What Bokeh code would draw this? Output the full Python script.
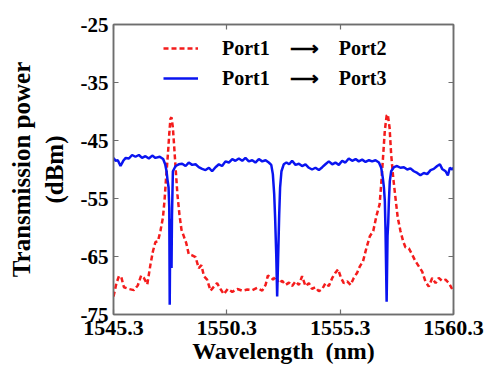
from bokeh.plotting import figure
from bokeh.models import (FixedTicker, LinearAxis, Range1d, Legend, LegendItem)
from bokeh.embed import file_html
from bokeh.resources import INLINE

# ---- data ----
red_wl = [1545.30, 1545.43, 1545.54, 1545.64, 1545.76, 1545.98, 1546.20, 1546.37, 1546.52, 1546.64,
          1546.79, 1546.93, 1547.04, 1547.15, 1547.26, 1547.37, 1547.48, 1547.55, 1547.62, 1547.70,
          1547.76, 1547.81, 1547.86, 1547.92, 1547.98, 1548.05, 1548.12, 1548.21, 1548.30, 1548.40,
          1548.51, 1548.62, 1548.77, 1548.92, 1549.06, 1549.18, 1549.29, 1549.43, 1549.58, 1549.73,
          1549.87, 1550.02, 1550.17, 1550.34, 1550.54, 1550.76, 1550.98, 1551.20, 1551.42, 1551.64,
          1551.86, 1552.01, 1552.11, 1552.23, 1552.34, 1552.46, 1552.59, 1552.74, 1552.89, 1553.04,
          1553.18, 1553.33, 1553.48, 1553.62, 1553.77, 1553.92, 1554.06, 1554.21, 1554.36, 1554.51,
          1554.65, 1554.80, 1554.95, 1555.09, 1555.21, 1555.34, 1555.46, 1555.61, 1555.76, 1555.90,
          1556.05, 1556.17, 1556.31, 1556.46, 1556.61, 1556.76, 1556.90, 1557.04, 1557.12, 1557.20,
          1557.27, 1557.35, 1557.40, 1557.48, 1557.55, 1557.64, 1557.74, 1557.84, 1557.96, 1558.08,
          1558.18, 1558.33, 1558.48, 1558.62, 1558.77, 1558.92, 1559.06, 1559.21, 1559.36, 1559.51,
          1559.65, 1559.80, 1559.95, 1560.10, 1560.24]
red_pw = [-71.9, -69.6, -68.4, -68.5, -70.3, -70.6, -70.8, -70.0, -68.3, -68.7,
          -69.8, -66.4, -64.1, -62.5, -62.4, -60.6, -58.3, -55.4, -51.4, -47.4,
          -43.9, -41.3, -41.0, -42.8, -46.2, -50.3, -54.3, -57.8, -60.4, -61.5,
          -62.7, -64.6, -64.8, -65.1, -67.0, -66.5, -68.4, -69.0, -70.9, -70.2,
          -69.6, -70.6, -71.5, -70.6, -71.1, -70.6, -70.9, -70.7, -70.8, -70.4,
          -70.9, -69.9, -68.3, -68.5, -69.0, -68.4, -69.6, -69.2, -69.9, -69.5,
          -70.1, -69.3, -69.9, -68.4, -70.1, -69.6, -70.6, -70.3, -71.0, -70.6,
          -69.6, -70.1, -68.7, -67.8, -67.2, -68.7, -69.6, -69.3, -69.9, -68.7,
          -67.8, -66.7, -65.8, -63.5, -61.5, -60.6, -58.0, -56.0, -52.0, -47.4,
          -43.3, -40.7, -40.5, -42.8, -47.4, -51.4, -54.9, -58.3, -60.6, -62.4,
          -63.4, -63.6, -64.7, -65.8, -66.7, -67.6, -69.3, -70.2, -68.7, -69.6,
          -68.7, -69.2, -69.0, -69.6, -70.6]

blue_wl = [1545.30, 1545.39, 1545.49, 1545.61, 1545.73, 1545.84, 1545.98, 1546.12, 1546.27, 1546.42,
           1546.56, 1546.71, 1546.86, 1547.01, 1547.15, 1547.34, 1547.49, 1547.58, 1547.64, 1547.68,
           1547.73, 1547.76, 1547.78, 1547.80, 1547.82, 1547.86, 1547.88, 1547.92, 1548.04, 1548.18,
           1548.33, 1548.48, 1548.62, 1548.77, 1548.92, 1549.06, 1549.21, 1549.36, 1549.51, 1549.65,
           1549.80, 1549.95, 1550.09, 1550.24, 1550.39, 1550.54, 1550.68, 1550.83, 1550.98, 1551.12,
           1551.27, 1551.42, 1551.56, 1551.71, 1551.86, 1552.01, 1552.15, 1552.26, 1552.33, 1552.39,
           1552.43, 1552.48, 1552.52, 1552.56, 1552.61, 1552.65, 1552.71, 1552.81, 1552.93, 1553.05,
           1553.18, 1553.33, 1553.48, 1553.62, 1553.77, 1553.92, 1554.06, 1554.21, 1554.36, 1554.51,
           1554.65, 1554.80, 1554.95, 1555.09, 1555.24, 1555.39, 1555.53, 1555.68, 1555.83, 1555.98,
           1556.12, 1556.27, 1556.42, 1556.57, 1556.71, 1556.86, 1557.01, 1557.11, 1557.18, 1557.23,
           1557.27, 1557.30, 1557.35, 1557.39, 1557.42, 1557.45, 1557.49, 1557.55, 1557.67, 1557.81,
           1557.96, 1558.11, 1558.26, 1558.40, 1558.55, 1558.70, 1558.84, 1558.99, 1559.14, 1559.29,
           1559.43, 1559.58, 1559.70, 1559.80, 1559.95, 1560.05, 1560.14, 1560.24, 1560.30]
blue_pw = [-48.0, -48.5, -48.4, -49.4, -48.5, -48.0, -48.1, -47.5, -47.8, -47.5,
           -48.0, -47.7, -48.1, -47.6, -48.0, -47.8, -48.2, -49.1, -50.3, -51.7,
           -53.1, -56.6, -73.3, -62.0, -58.5, -67.0, -58.0, -50.3, -49.4, -49.1,
           -49.0, -49.4, -48.8, -49.2, -49.1, -49.6, -49.9, -50.1, -49.7, -50.3,
           -49.6, -49.1, -49.4, -48.6, -48.8, -48.2, -48.5, -48.1, -48.5, -48.0,
           -48.6, -48.4, -48.8, -48.2, -48.6, -48.4, -48.8, -49.2, -50.8, -54.3,
           -58.3, -64.7, -71.9, -65.8, -57.8, -53.1, -50.3, -49.1, -48.8, -49.1,
           -48.5, -49.2, -49.0, -49.4, -49.1, -49.7, -50.0, -49.7, -50.1, -49.6,
           -49.1, -48.6, -49.1, -48.8, -49.2, -48.5, -48.8, -48.1, -48.5, -48.2,
           -48.6, -48.3, -48.7, -48.4, -48.6, -48.4, -48.8, -49.7, -51.4, -53.1,
           -55.4, -60.4, -72.8, -61.5, -59.2, -55.4, -52.0, -50.3, -49.6, -49.4,
           -49.7, -49.6, -50.0, -49.8, -50.3, -50.6, -51.0, -50.6, -50.8, -50.1,
           -49.9, -49.4, -49.1, -49.9, -50.3, -51.0, -49.7, -50.0, -49.7]

x_ticks = [1545.3, 1550.3, 1555.3, 1560.3]
y_ticks = [-75, -65, -55, -45, -35, -25]
labels = ["Port1\u2003\u27f6\u2003Port2", "Port1\u2003\u27f6\u2003Port3"]

FONT = "Liberation Serif"
AXC = "#6e6e6e"

p = figure(width=486, height=370, output_backend="svg", toolbar_location=None,
           x_range=Range1d(1545.3, 1560.3), y_range=Range1d(-75, -25),
           min_border_left=113, min_border_right=33, min_border_top=24, min_border_bottom=56)
p.grid.visible = False
p.outline_line_color = AXC
p.outline_line_width = 1.5
p.background_fill_color = "white"
p.border_fill_color = "white"

r1 = p.line(red_wl, red_pw, line_color="#f41c1c", line_width=2.5, line_dash="5 3")
r2 = p.line(blue_wl, blue_pw, line_color="#0a14f0", line_width=2.5)

bottom = p.below[0]
left = p.left[0]
top = LinearAxis()
right = LinearAxis()
p.add_layout(top, "above")
p.add_layout(right, "right")

for ax, ticks in ((bottom, x_ticks), (top, x_ticks), (left, y_ticks), (right, y_ticks)):
    ax.ticker = FixedTicker(ticks=ticks)
    ax.major_tick_in = 5
    ax.major_tick_out = 0
    ax.minor_tick_in = 0
    ax.minor_tick_out = 0
    ax.axis_line_color = AXC
    ax.axis_line_width = 1.5
    ax.major_tick_line_color = AXC
    ax.major_tick_line_width = 1.2
    ax.major_label_text_font = FONT
    ax.major_label_text_font_style = "bold"
    ax.major_label_text_color = "black"
    ax.axis_label_text_font = FONT
    ax.axis_label_text_font_style = "bold"
    ax.axis_label_text_font_size = "25px"
    ax.axis_label_text_color = "black"

for ax, ticks in ((top, x_ticks), (right, y_ticks)):
    ax.major_label_overrides = {t: "" for t in ticks}
    ax.major_label_standoff = 0

bottom.major_label_text_font_size = "22px"
left.major_label_text_font_size = "21px"
bottom.major_label_overrides = {t: f"{t:.1f}" for t in x_ticks}
left.major_label_overrides = {t: f"{t:d}" for t in y_ticks}
bottom.major_label_standoff = 6
left.major_label_standoff = 5
bottom.axis_label = "Wavelength\u2002(nm)"
bottom.axis_label_text_font_size = "24px"
bottom.axis_label_standoff = 0
left.axis_label = "Transmission power\n(dBm)"
left.axis_label_standoff = 10

legend = Legend(items=[LegendItem(label=labels[0], renderers=[r1]),
                       LegendItem(label=labels[1], renderers=[r2])],
                location=(50, 224), orientation="vertical")
legend.border_line_color = None
legend.background_fill_alpha = 0
legend.padding = 0
legend.margin = 0
legend.spacing = 6
legend.glyph_width = 35
legend.glyph_height = 20
legend.label_height = 20
legend.label_standoff = 24
legend.label_text_font = FONT
legend.label_text_font_style = "bold"
legend.label_text_font_size = "20px"
legend.label_text_color = "black"
p.add_layout(legend, "center")

open("out.html", "w").write(file_html(p, INLINE))
